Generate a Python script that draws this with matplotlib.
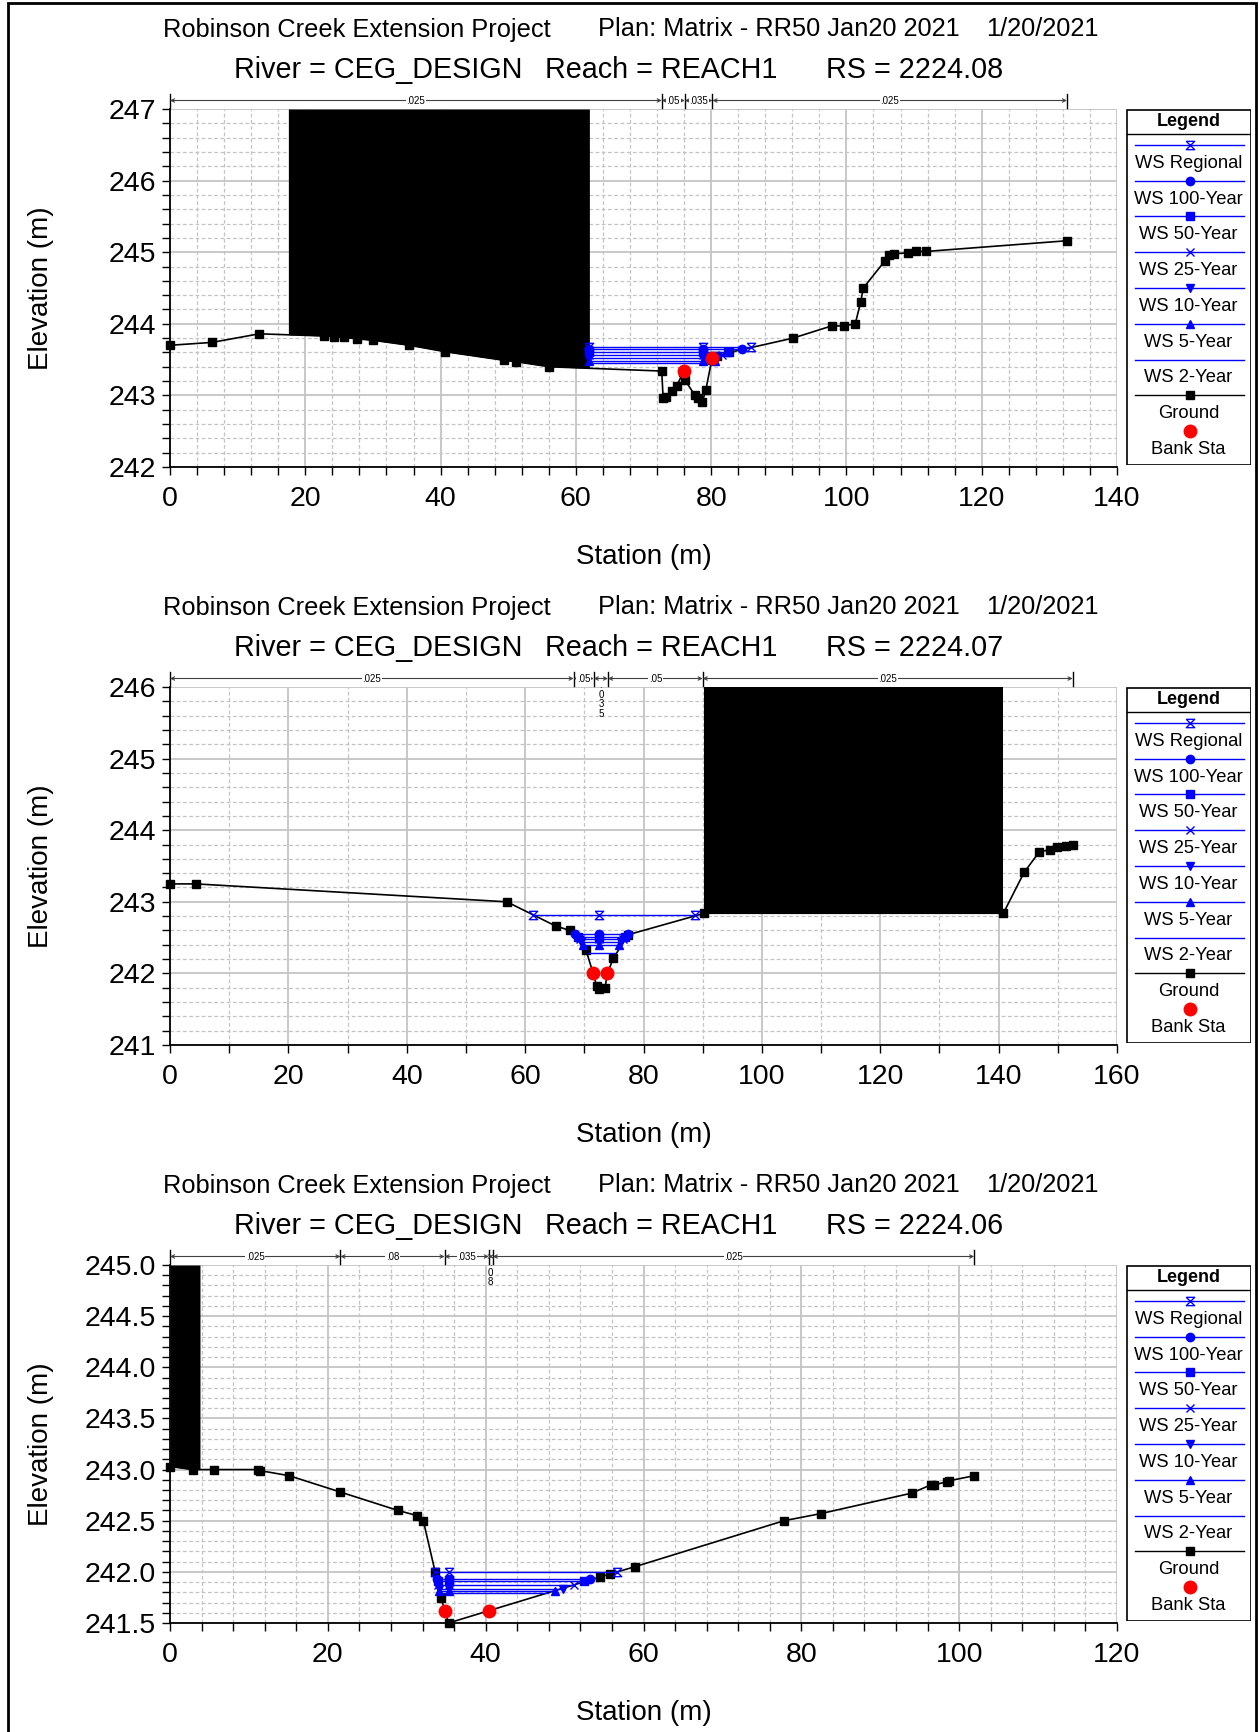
import numpy as np
import matplotlib.pyplot as plt
import matplotlib.transforms as mtransforms
from matplotlib.patches import Rectangle
from matplotlib.ticker import MultipleLocator, FormatStrFormatter

plt.rcParams['font.family'] = ['Liberation Sans', 'DejaVu Sans']

W, H = 1259, 1732

# header text
project = 'Robinson Creek Extension Project'
plan = 'Plan: Matrix - RR50 Jan20 2021'
run_date = '1/20/2021'
river = 'CEG_DESIGN'
reach = 'REACH1'
stations = ['2224.08', '2224.07', '2224.06']

profiles = ['WS Regional', 'WS 100-Year', 'WS 50-Year', 'WS 25-Year',
            'WS 10-Year', 'WS 5-Year', 'WS 2-Year']

# ---- RS 2224.08 ----
gx_08 = [0, 6.2, 13.2, 22.8, 24.3, 25.7, 27.7, 30.0, 35.4, 40.7, 49.4, 51.2, 56.1,
         72.7, 72.9, 73.4, 74.2, 74.9, 75.9, 76.1, 77.6, 78.1, 78.7, 79.2, 80.1, 80.8,
         82.7, 92.1, 97.8, 99.6, 101.3, 102.1, 102.5, 105.7, 106.3, 107.0, 109.1,
         110.3, 111.7, 132.6]
gy_08 = [243.70, 243.74, 243.86, 243.83, 243.82, 243.81, 243.79, 243.77, 243.70,
         243.61, 243.49, 243.47, 243.40, 243.34, 242.96, 242.98, 243.06, 243.13,
         243.33, 243.22, 243.00, 242.97, 242.91, 243.07, 243.50, 243.55, 243.60,
         243.80, 243.97, 243.97, 244.00, 244.30, 244.50, 244.88, 244.96, 244.98,
         244.99, 245.01, 245.01, 245.16]
bank_x_08 = [76.0, 80.1]
bank_y_08 = [243.34, 243.52]
ws_el_08 = [243.68, 243.65, 243.60, 243.56, 243.52, 243.48, 243.45]
ws_left_08 = [62.0, 62.0, 62.0, 62.0, 62.0, 62.0, 62.0]
ws_right_08 = [85.9, 84.5, 82.5, 81.6, 80.9, 80.5, 80.2]
ws_mid_08 = 78.8
n_x_08 = [0, 72.7, 76.1, 80.2, 132.6]
n_val_08 = ['.025', '.05', '.035', '.025']
block_08 = [17.5, 62.0, 247.0]

# ---- RS 2224.07 ----
gx_07 = [0, 4.4, 56.9, 65.2, 67.6, 70.3, 71.5, 72.1, 72.4, 73.5, 73.9, 74.9, 77.4,
         90.3, 140.8, 144.3, 146.8, 148.6, 149.9, 151.4, 152.5]
gy_07 = [243.25, 243.25, 243.00, 242.66, 242.60, 242.32, 242.00, 241.82, 241.78,
         241.80, 242.00, 242.21, 242.54, 242.84, 242.84, 243.41, 243.69, 243.73,
         243.76, 243.78, 243.79]
bank_x_07 = [71.5, 73.9]
bank_y_07 = [242.00, 242.00]
ws_el_07 = [242.82, 242.55, 242.51, 242.48, 242.44, 242.40, 242.28]
ws_left_07 = [61.4, 68.4, 68.9, 69.2, 69.5, 69.8, 70.6]
ws_right_07 = [88.7, 77.4, 76.9, 76.6, 76.2, 75.9, 75.2]
ws_mid_07 = 72.4
n_x_07 = [0, 68.2, 71.6, 74.0, 90.0, 152.5]
n_val_07 = ['.025', '.05', '.035', '.05', '.025']
block_07 = [90.3, 140.8, 246.0]

# ---- RS 2224.06 ----
gx_06 = [0, 2.9, 5.6, 11.1, 11.4, 15.1, 21.6, 28.9, 31.3, 32.1, 33.6, 34.4, 34.8,
         35.3, 40.4, 54.5, 55.8, 58.9, 77.8, 82.5, 94.0, 96.4, 96.8, 98.4, 98.7, 101.9]
gy_06 = [243.03, 243.00, 243.00, 243.00, 242.99, 242.94, 242.78, 242.60, 242.55,
         242.50, 242.00, 241.74, 241.62, 241.50, 241.62, 241.95, 241.98, 242.05,
         242.50, 242.57, 242.77, 242.85, 242.85, 242.88, 242.89, 242.94]
bank_x_06 = [34.8, 40.4]
bank_y_06 = [241.62, 241.62]
ws_el_06 = [242.00, 241.93, 241.91, 241.87, 241.83, 241.81, 241.79]
ws_left_06 = [33.6, 33.8, 33.9, 34.0, 34.1, 34.1, 34.2]
ws_right_06 = [56.6, 53.2, 52.4, 51.2, 49.8, 48.8, 47.9]
ws_mid_06 = 35.4
n_x_06 = [0, 21.6, 34.8, 40.4, 40.9, 101.9]
n_val_06 = ['.025', '.08', '.035', '.08', '.025']
block_06 = [0.0, 3.8, 245.0]

HOURGLASS = [(-1, 1), (1, 1), (-1, -1), (1, -1), (-1, 1)]
ws_markers = [HOURGLASS, 'o', 's', 'x', 'v', '^', None]
BLUE = '#0000ff'


def fx(px):
    return px / W


def fy(py):
    return 1 - py / H


def draw_legend(fig, top):
    lax = fig.add_axes([fx(1126), fy(top + 356), 125 / W, 356 / H])
    lax.set_xlim(0, 125)
    lax.set_ylim(356, 0)
    lax.axis('off')
    lax.add_patch(Rectangle((0.5, 0.5), 124, 355, fill=False, ec='black', lw=1.2))
    lax.plot([0.5, 124.5], [25, 25], color='black', lw=1)
    lax.text(62.5, 13, 'Legend', ha='center', va='center', fontsize=13, fontweight='bold')
    for i, (name, mk) in enumerate(zip(profiles, ws_markers)):
        yl = 35.7 + 35.8 * i
        lax.plot([9, 118], [yl, yl], color=BLUE, lw=1)
        if mk is not None:
            fc = 'none' if mk is HOURGLASS else BLUE
            lax.plot([63.5], [yl], marker=mk, ms=6, color=BLUE, mfc=fc, mew=1)
        lax.text(62.5, yl + 18.5, name, ha='center', va='center', fontsize=13.2)
    yl = 35.7 + 35.8 * 7
    lax.plot([9, 118], [yl, yl], color='black', lw=1)
    lax.plot([63.5], [yl], marker='s', ms=6, color='black')
    lax.text(62.5, yl + 18.5, 'Ground', ha='center', va='center', fontsize=13.2)
    yl = 35.7 + 35.8 * 8
    lax.plot([63.5], [yl], marker='o', ms=9, color='red', ls='none')
    lax.text(62.5, yl + 18.5, 'Bank Sta', ha='center', va='center', fontsize=13.2)


def draw_section(fig, top, rs, gx, gy, bank_x, bank_y, ws_el, ws_left, ws_right, ws_mid,
                 n_x, n_val, block, xmax, ylims, ymajor, yminor, xminor, yfmt):
    ax = fig.add_axes([fx(170), fy(top + 358), 947 / W, 358 / H])
    ax.set_xlim(0, xmax)
    ax.set_ylim(*ylims)

    ax.xaxis.set_major_locator(MultipleLocator(20))
    ax.xaxis.set_minor_locator(MultipleLocator(xminor))
    ax.yaxis.set_major_locator(MultipleLocator(ymajor))
    ax.yaxis.set_minor_locator(MultipleLocator(yminor))
    ax.yaxis.set_major_formatter(FormatStrFormatter(yfmt))
    ax.grid(which='major', color='#c4c4c4', lw=1.3, ls='-')
    ax.grid(which='minor', color='#c4c4c4', lw=0.9, ls=(0, (3, 2)))
    ax.set_axisbelow(True)
    ax.tick_params(which='both', direction='out', length=6, width=1, labelsize=20.5)
    ax.tick_params(axis='x', pad=8)
    ax.tick_params(axis='y', pad=4)
    for s in ['top', 'right']:
        ax.spines[s].set_visible(False)
    for s in ['left', 'bottom']:
        ax.spines[s].set_linewidth(1.3)

    # blocked obstruction
    gx_a = np.array(gx)
    gy_a = np.array(gy)
    inside = gx_a[(gx_a > block[0]) & (gx_a < block[1])]
    bx = np.concatenate([[block[0]], inside, [block[1]]])
    ax.fill_between(bx, np.interp(bx, gx_a, gy_a), block[2], color='black', lw=0, zorder=2)

    # ground
    ax.plot(gx, gy, color='black', lw=1.2, marker='s', ms=6.3, zorder=3, clip_on=False)

    # water surfaces
    for el, x0, x1, mk in zip(ws_el, ws_left, ws_right, ws_markers):
        ax.plot([x0, x1], [el, el], color=BLUE, lw=1, zorder=4)
        if mk is not None:
            fc = 'none' if mk is HOURGLASS else BLUE
            ax.plot([x0, ws_mid, x1], [el, el, el], ls='none', marker=mk, ms=6,
                    color=BLUE, mfc=fc, mew=1, zorder=4)

    ax.plot(bank_x, bank_y, ls='none', marker='o', ms=9, color='red', zorder=5,
            clip_on=False)

    # Manning's n bar above the plot
    trans = mtransforms.blended_transform_factory(ax.transData, ax.transAxes)
    yb = 1 + 8.5 / 358
    ppu = 947 / xmax
    for x in n_x:
        ax.plot([x, x], [1 + 1 / 358, 1 + 15 / 358], color='black', lw=1,
                transform=trans, clip_on=False)
    for x0, x1, val in zip(n_x[:-1], n_x[1:], n_val):
        ax.annotate('', xy=(x1, yb), xytext=(x0, yb), xycoords=trans, textcoords=trans,
                    arrowprops=dict(arrowstyle='<->', color='#404040', lw=0.8,
                                    shrinkA=0, shrinkB=0, mutation_scale=6),
                    annotation_clip=False)
        xm = (x0 + x1) / 2
        if (x1 - x0) * ppu < 16:
            ax.text(xm, 1 + 7 / 358, '\n'.join(val), transform=trans, ha='center',
                    va='top', fontsize=7, linespacing=0.95, clip_on=False)
        else:
            ax.text(xm, yb, val, transform=trans, ha='center', va='center', fontsize=7,
                    bbox=dict(fc='white', ec='none', pad=0.4), clip_on=False)

    # headers and labels
    fig.text(fx(163), fy(top - 79.5), project, fontsize=18.3, va='center')
    fig.text(fx(597.5), fy(top - 79.5), plan, fontsize=18.3, va='center')
    fig.text(fx(986), fy(top - 79.5), run_date, fontsize=18.3, va='center')
    fig.text(fx(234), fy(top - 38.5), 'River = ' + river, fontsize=20.7, va='center')
    fig.text(fx(545), fy(top - 38.5), 'Reach = ' + reach, fontsize=20.7, va='center')
    fig.text(fx(826), fy(top - 38.5), 'RS = ' + rs, fontsize=20.7, va='center')
    fig.text(fx(41), fy(top + 179), 'Elevation (m)', rotation=90, fontsize=20,
             ha='center', va='center')
    fig.text(fx(643.5), fy(top + 448), 'Station (m)', fontsize=20, ha='center', va='center')

    draw_legend(fig, top)
    return ax


fig = plt.figure(figsize=(W / 100, H / 100), dpi=100)

draw_section(fig, 109, stations[0], gx_08, gy_08, bank_x_08, bank_y_08, ws_el_08,
             ws_left_08, ws_right_08, ws_mid_08, n_x_08, n_val_08, block_08,
             140, (242, 247), 1, 0.2, 4, '%d')
draw_section(fig, 687, stations[1], gx_07, gy_07, bank_x_07, bank_y_07, ws_el_07,
             ws_left_07, ws_right_07, ws_mid_07, n_x_07, n_val_07, block_07,
             160, (241, 246), 1, 0.2, 10, '%d')
draw_section(fig, 1265, stations[2], gx_06, gy_06, bank_x_06, bank_y_06, ws_el_06,
             ws_left_06, ws_right_06, ws_mid_06, n_x_06, n_val_06, block_06,
             120, (241.5, 245.0), 0.5, 0.1, 4, '%.1f')

# outer frame
fig.add_artist(Rectangle((fx(8), fy(1760)), fx(1256) - fx(8), fy(3) - fy(1760),
                         transform=fig.transFigure, fill=False, ec='black', lw=2))

fig.savefig('out.png', dpi=100)
